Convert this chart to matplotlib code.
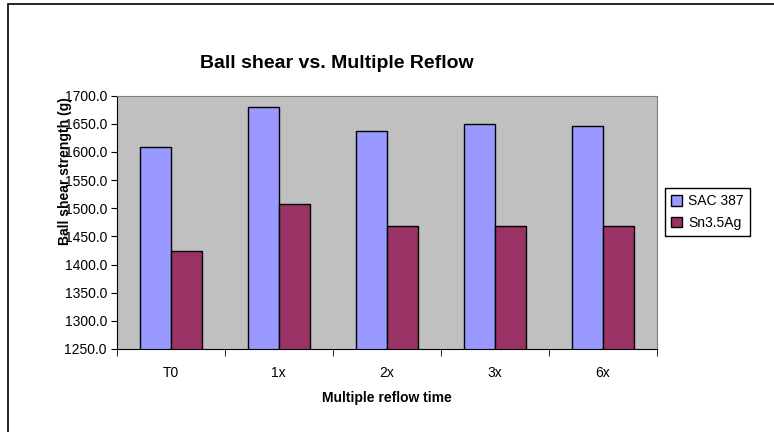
import matplotlib
matplotlib.use("Agg")
import matplotlib.pyplot as plt
from matplotlib.patches import Rectangle
import numpy as np

plt.rcParams['font.family'] = ['Liberation Sans', 'DejaVu Sans']

categories = ["T0", "1x", "2x", "3x", "6x"]
sac387 = [1608, 1680, 1637, 1650, 1646]
sn35ag = [1424, 1508, 1468, 1469, 1469]
y_ticks = [1250, 1300, 1350, 1400, 1450, 1500, 1550, 1600, 1650, 1700]

W, H = 774, 432
fig = plt.figure(figsize=(W / 100, H / 100), dpi=100)

# outer chart frame (right and bottom run off the picture)
fig.patches.append(Rectangle((8 / W, -0.05), 1.2, 1 - 3.5 / H + 0.05,
                             transform=fig.transFigure, fill=False,
                             edgecolor="black", linewidth=1.2))

ax = fig.add_axes([116.7 / W, 1 - 349 / H, (657 - 116.7) / W, (349 - 95.6) / H])
ax.set_facecolor("#C0C0C0")

x = np.arange(len(categories))
bw = 0.286
ax.bar(x - bw / 2, sac387, bw, color="#9999FF", edgecolor="black",
       linewidth=1, label="SAC 387")
ax.bar(x + bw / 2, sn35ag, bw, color="#993366", edgecolor="black",
       linewidth=1, label="Sn3.5Ag")

ax.set_xlim(-0.5, len(categories) - 0.5)
ax.set_ylim(1250, 1700)
ax.set_yticks(y_ticks)
ax.set_yticklabels(["%.1f" % v for v in y_ticks], fontsize=10)
ax.set_xticks(x)
ax.set_xticklabels(categories, fontsize=10)
ax.tick_params(axis="x", length=0, pad=12)
ax.tick_params(axis="y", length=4, direction="out", pad=3)
# x ticks sit on the category boundaries
ax.set_xticks(np.arange(-0.5, len(categories)), minor=True)
ax.tick_params(axis="x", which="minor", length=5, direction="out")

for s in ["top", "right"]:
    ax.spines[s].set_color("#808080")
ax.spines["left"].set_color("black")
ax.spines["bottom"].set_color("black")

fig.text(337 / W, 1 - 63 / H, "Ball shear vs. Multiple Reflow",
         ha="center", va="center", fontsize=14, fontweight="bold")
fig.text(387 / W, 1 - 398 / H, "Multiple reflow time",
         ha="center", va="center", fontsize=10, fontweight="bold")
fig.text(65 / W, 1 - 171 / H, "Ball shear strength (g)", rotation=90,
         ha="center", va="center", fontsize=10, fontweight="bold")

leg = fig.legend(loc="upper left", bbox_to_anchor=(665 / W, 1 - 188 / H),
                 fontsize=10, frameon=True, fancybox=False, framealpha=1,
                 edgecolor="black", handlelength=0.8, handleheight=0.8,
                 handletextpad=0.4, borderpad=0.45, labelspacing=0.55,
                 borderaxespad=0)
leg.get_frame().set_linewidth(1)

fig.savefig("out.png", dpi=100)
